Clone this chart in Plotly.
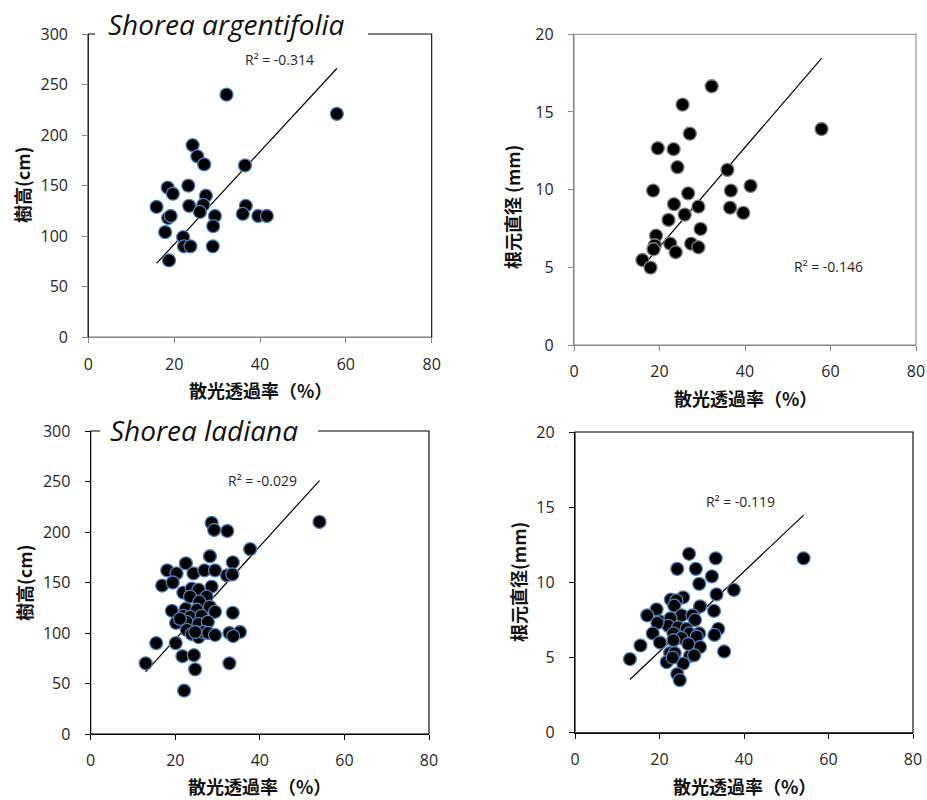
import plotly.graph_objects as go

# ---------------- Data ----------------
# Shorea argentifolia : height (cm)
sa_h_x = [32.2, 57.9, 24.3, 25.4, 27.0, 36.5, 18.5, 19.7, 23.3, 27.4, 15.9, 23.5, 26.8, 26.0,
          36.7, 36.0, 39.6, 41.6, 29.5, 18.6, 19.2, 29.1, 17.9, 22.1, 22.3, 23.8, 29.0, 18.8]
sa_h_y = [240, 221, 190, 179, 171, 170, 148, 142, 150, 140, 129, 130, 131, 124,
          130, 122, 120, 120, 120, 118, 120, 110, 104, 99, 90, 90, 90, 76]
# Shorea argentifolia : basal diameter (mm)
sa_d_x = [32.2, 57.9, 25.4, 27.1, 19.6, 23.3, 24.2, 35.9, 18.5, 26.7, 36.7, 41.3, 23.4, 29.1,
          36.5, 39.6, 25.9, 22.1, 29.6, 19.2, 18.9, 18.6, 22.5, 27.4, 29.1, 23.8, 16.0, 17.9]
sa_d_y = [16.65, 13.9, 15.47, 13.6, 12.66, 12.6, 11.44, 11.27, 9.94, 9.76, 9.94, 10.24, 9.06, 8.9,
          8.84, 8.5, 8.39, 8.05, 7.47, 7.04, 6.42, 6.16, 6.52, 6.52, 6.29, 5.97, 5.47, 4.98]
# Shorea ladiana : height (cm)
sl_h_x = [54.1, 28.6, 29.2, 32.3, 37.7, 28.2, 22.5, 33.6, 18.1, 20.3, 24.3, 26.9, 29.4, 32.2,
          33.5, 16.9, 19.4, 28.6, 21.9, 23.9, 25.5, 23.5, 27.4, 25.7, 19.2, 22.5, 25.1, 28.2,
          29.4, 33.6, 21.9, 23.5, 26.2, 20.2, 22.7, 25.5, 27.7, 22.7, 23.9, 25.5, 26.6, 27.8,
          29.4, 32.8, 35.3, 33.7, 15.5, 20.1, 21.7, 24.4, 13.0, 32.8, 24.7, 22.1, 24.7, 21.1]
sl_h_y = [210, 209, 202, 201, 183, 176, 169, 170, 162, 159, 159, 162, 162, 157,
          158, 147, 150, 146, 140, 144, 143, 136, 136, 131, 122, 124, 123, 126,
          121, 120, 117, 116, 117, 110, 111, 109, 111, 103, 99, 96, 101, 100,
          98, 100, 101, 97, 90, 90, 77, 78, 70, 70, 64, 43, 101, 114]
# Shorea ladiana : basal diameter (mm)
sl_d_x = [54.1, 27.0, 33.3, 24.2, 28.6, 32.4, 29.4, 37.6, 33.5, 25.6, 22.7, 24.0, 23.5, 29.6,
          19.3, 32.9, 17.1, 25.2, 27.8, 20.1, 22.6, 28.4, 22.1, 19.5, 24.4, 26.4, 18.4, 23.3,
          27.0, 29.4, 33.9, 33.0, 25.2, 20.1, 23.3, 28.8, 15.5, 29.6, 35.3, 22.5, 23.6, 27.2,
          28.2, 13.0, 21.7, 25.6, 24.2, 24.8, 23.1, 26.8]
sl_d_y = [11.6, 11.9, 11.6, 10.9, 10.9, 10.4, 9.9, 9.5, 9.2, 9.0, 8.85, 8.8, 8.45, 8.4,
          8.2, 8.1, 7.8, 7.8, 7.8, 7.4, 7.6, 7.5, 7.1, 7.3, 7.0, 6.9, 6.6, 6.6,
          6.6, 6.6, 6.9, 6.5, 6.3, 6.0, 6.15, 6.4, 5.8, 5.7, 5.4, 5.3, 5.3, 5.1,
          5.15, 4.9, 4.7, 4.6, 3.9, 3.5, 5.0, 5.9]

# Trendlines (slope, intercept) as drawn in the reference
trend_coef = [(4.59, 0.1), (0.32, -0.08), (4.61, 1.5), (0.266, 0.08)]
r2_labels = ["R² = -0.314", "R² = -0.146", "R² = -0.029", "R² = -0.119"]
x_ticks = [0, 20, 40, 60, 80]
h_ticks = [0, 50, 100, 150, 200, 250, 300]
d_ticks = [0, 5, 10, 15, 20]
titles = ["Shorea argentifolia", "Shorea ladiana"]
x_title = "散光透過率（%）"
y_titles = ["樹高(cm)", "根元直径 (mm)", "樹高(cm)", "根元直径(mm)"]

W, H = 927, 800

# panel pixel boxes: (left, right, top, bottom)
boxes = [(88.3, 431.7, 34.0, 337.3), (574.0, 916.0, 34.2, 345.0),
         (90.7, 429.0, 431.0, 734.0), (575.0, 913.0, 432.0, 732.7)]
xtitle_y = [390, 398, 786, 786]
axis_colors = ["#868686", "#868686", "#000000", "#000000"]
border_colors = ["#000000", "#868686", "#000000", "#000000"]
marker_lines = ["#4f81bd", "#7f7f7f", "#4f81bd", "#4f81bd"]
datasets = [(sa_h_x, sa_h_y), (sa_d_x, sa_d_y), (sl_h_x, sl_h_y), (sl_d_x, sl_d_y)]
yranges = [(0, 300, h_ticks), (0, 20, d_ticks), (0, 300, h_ticks), (0, 20, d_ticks)]

fig = go.Figure()
tick_font = dict(family="Open Sans, Lato, sans-serif", size=16, color="#262626")
cjk_font = dict(family="Noto Sans CJK JP", size=18, color="#111111", weight="bold")

layout = dict(template="none", width=W, height=H, margin=dict(l=0, r=0, t=0, b=0, pad=0),
              paper_bgcolor="white", plot_bgcolor="white", showlegend=False)
shapes = []
annotations = []

for i, ((xs, ys), (l, r, t, b)) in enumerate(zip(datasets, boxes)):
    n = "" if i == 0 else str(i + 1)
    xa, ya = "x" + n, "y" + n
    slope, icpt = trend_coef[i]
    x0, x1 = min(xs), max(xs)
    fig.add_trace(go.Scatter(x=[x0, x1], y=[slope * x0 + icpt, slope * x1 + icpt],
                             mode="lines", line=dict(color="black", width=1.2),
                             xaxis=xa, yaxis=ya, hoverinfo="skip"))
    fig.add_trace(go.Scatter(x=xs, y=ys, mode="markers",
                             marker=dict(size=13, color="black",
                                         line=dict(color=marker_lines[i], width=1.3)),
                             xaxis=xa, yaxis=ya))
    y0, y1, yt = yranges[i]
    layout["xaxis" + n] = dict(domain=[l / W, r / W], anchor=ya, range=[0, 80],
                               tickvals=x_ticks, ticks="outside", ticklen=5,
                               tickcolor=axis_colors[i], showline=True,
                               linecolor=axis_colors[i], linewidth=1.3,
                               showgrid=False, zeroline=False, tickfont=tick_font,
                               ticklabelstandoff=7, automargin=False)
    layout["yaxis" + n] = dict(domain=[1 - b / H, 1 - t / H], anchor=xa, range=[y0, y1],
                               tickvals=yt, ticks="outside", ticklen=5,
                               tickcolor=axis_colors[i], showline=True,
                               linecolor=axis_colors[i], linewidth=1.3,
                               showgrid=False, zeroline=False, tickfont=tick_font,
                               ticklabelstandoff=11, automargin=False)
    shapes.append(dict(type="rect", xref=xa + " domain", yref=ya + " domain",
                       x0=0, x1=1, y0=0, y1=1, layer="below",
                       line=dict(color=border_colors[i], width=1.1)))
    # x axis title
    annotations.append(dict(text=x_title, xref="paper", yref="paper",
                            x=(l + r) / 2 / W, y=1 - xtitle_y[i] / H,
                            showarrow=False, xanchor="center", yanchor="middle",
                            font=cjk_font))

# y axis titles (pixel centres)
ytitle_pos = [(22, 185), (512, 207), (24, 583), (518, 582)]
for txt, (cx, cy) in zip(y_titles, ytitle_pos):
    annotations.append(dict(text=txt, xref="paper", yref="paper", x=cx / W, y=1 - cy / H,
                            showarrow=False, textangle=-90, xanchor="center",
                            yanchor="middle", font=cjk_font))

# R² labels
r2_pos = [(279, 60), (828, 266), (262, 480), (740, 502)]
for txt, (cx, cy) in zip(r2_labels, r2_pos):
    annotations.append(dict(text=txt, xref="paper", yref="paper", x=cx / W, y=1 - cy / H,
                            showarrow=False, xanchor="center", yanchor="middle",
                            font=dict(family="Open Sans, sans-serif", size=14,
                                      color="#262626")))

# species titles; a white strip hides the frame top behind each title
title_boxes = [(95, 368, 24, 34.0, 226), (100, 318, 430, 431.0, 204)]
for txt, (xl, xr, cy, line_y, cx) in zip(titles, title_boxes):
    shapes.append(dict(type="rect", xref="paper", yref="paper",
                       x0=xl / W, x1=xr / W, y0=1 - (line_y + 3) / H, y1=1 - (line_y - 3) / H,
                       fillcolor="white", line=dict(width=0), layer="above"))
    annotations.append(dict(text="<i>" + txt + "</i>", xref="paper", yref="paper",
                            x=cx / W, y=1 - cy / H,
                            showarrow=False, xanchor="center", yanchor="middle",
                            font=dict(family="Open Sans, sans-serif", size=28,
                                      color="#111111")))

layout["shapes"] = shapes
layout["annotations"] = annotations
fig.update_layout(**layout)
fig.write_html("out.html")
